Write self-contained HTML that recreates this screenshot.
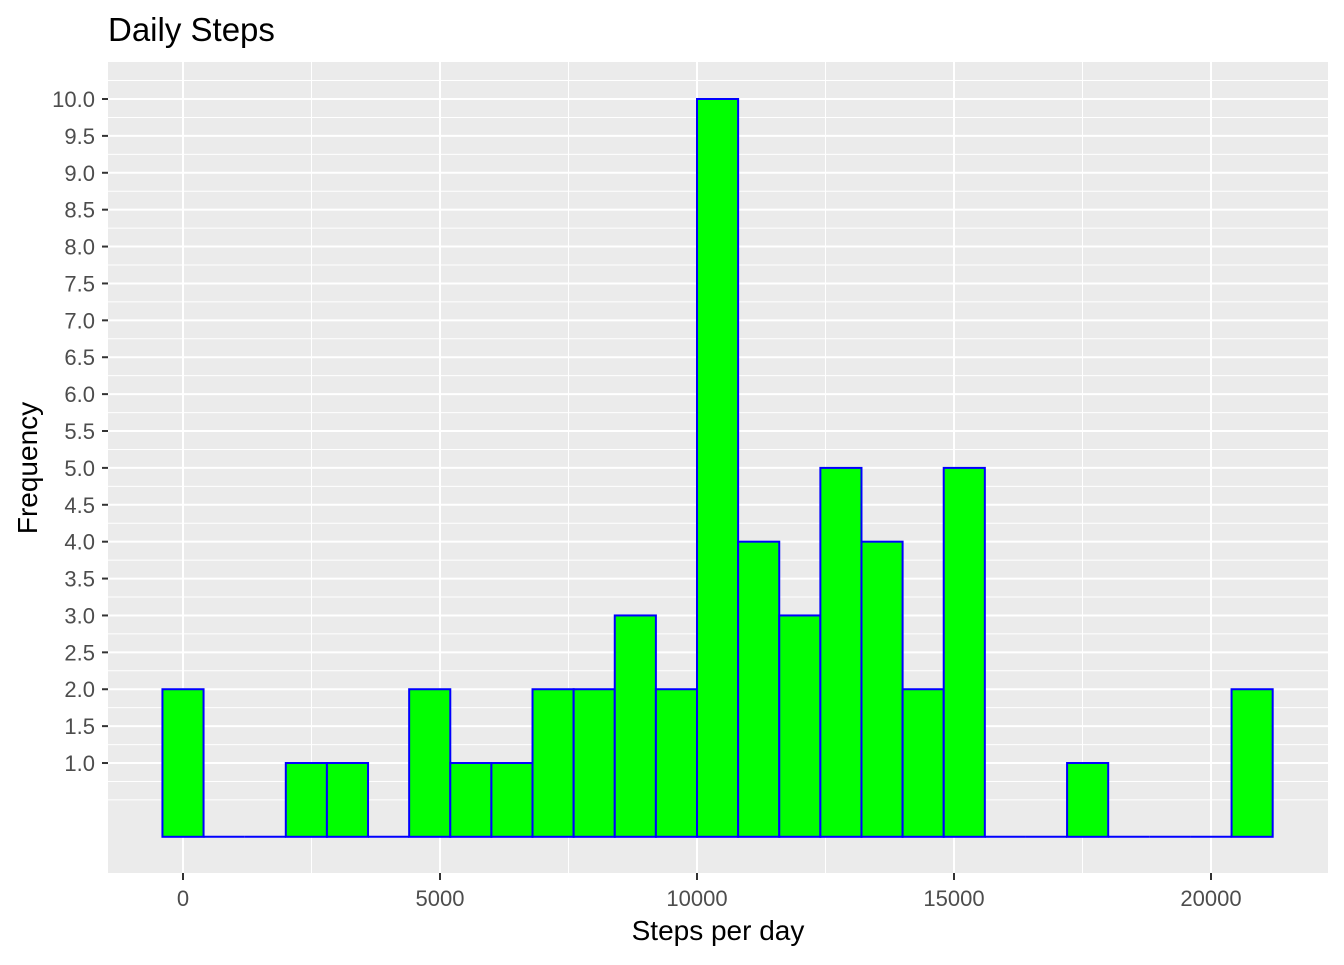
<!DOCTYPE html>
<html><head><meta charset="utf-8"><style>
body{margin:0;background:#fff;font-family:"Liberation Sans",Arial,sans-serif}
svg text{font-family:"Liberation Sans",Arial,sans-serif}
</style></head><body>
<svg id="chart" width="1344" height="960" xmlns="http://www.w3.org/2000/svg">
<rect width="1344" height="960" fill="#fff"/>
<text x="108" y="41" font-size="33" fill="#000">Daily Steps</text>
<rect x="108" y="62" width="1220" height="811" fill="#ebebeb"/>
<g id="grid"></g>
<g id="bars"></g>
<g id="axes"></g>
<text x="718" y="940" font-size="28" text-anchor="middle" fill="#000">Steps per day</text>
<text transform="translate(37,468) rotate(-90)" font-size="28" text-anchor="middle" fill="#000">Frequency</text>
</svg>
<script>
const binWidth = 800;
const binCenters = [0,800,1600,2400,3200,4000,4800,5600,6400,7200,8000,8800,9600,10400,11200,12000,12800,13600,14400,15200,16000,16800,17600,18400,19200,20000,20800];
const counts = [2,0,0,1,1,0,2,1,1,2,2,3,2,10,4,3,5,4,2,5,0,0,1,0,0,0,2];
const xTicks = [0,5000,10000,15000,20000];
const xMinor = [2500,7500,12500,17500];
const yTicks = [1,1.5,2,2.5,3,3.5,4,4.5,5,5.5,6,6.5,7,7.5,8,8.5,9,9.5,10];
const yTickLabels = ["1.0","1.5","2.0","2.5","3.0","3.5","4.0","4.5","5.0","5.5","6.0","6.5","7.0","7.5","8.0","8.5","9.0","9.5","10.0"];
const yMinor = [0.5,0.75,1.25,1.75,2.25,2.75,3.25,3.75,4.25,4.75,5.25,5.75,6.25,6.75,7.25,7.75,8.25,8.75,9.25,9.75,10.25];

const NS="http://www.w3.org/2000/svg";
const PL=108,PR=1328,PT=62,PB=873;
const x=v=>183+(v-0)*(1211-183)/20000;
const y=v=>836.8-v*(836.8-99)/10;
function mk(tag,attrs,parent){const e=document.createElementNS(NS,tag);for(const k in attrs)e.setAttribute(k,attrs[k]);parent.appendChild(e);return e;}
const grid=document.getElementById('grid'),bars=document.getElementById('bars'),axes=document.getElementById('axes');
yMinor.forEach(v=>{const l=mk('line',{x1:PL,x2:PR,y1:y(v),y2:y(v),stroke:'#fff','stroke-width':1},grid);

});
xMinor.forEach(v=>{const l=mk('line',{x1:x(v),x2:x(v),y1:PT,y2:PB,stroke:'#fff','stroke-width':1},grid);

});
yTicks.forEach((v,i)=>{const l=mk('line',{x1:PL,x2:PR,y1:y(v),y2:y(v),stroke:'#fff','stroke-width':2},grid);


const t=mk('line',{x1:PL-6,x2:PL,y1:y(v),y2:y(v),stroke:'#333','stroke-width':2},axes);


const tx=mk('text',{x:PL-13,y:y(v)+8,'font-size':22,'text-anchor':'end',fill:'#4d4d4d'},axes);tx.textContent=yTickLabels[i];

});
xTicks.forEach(v=>{const l=mk('line',{x1:x(v),x2:x(v),y1:PT,y2:PB,stroke:'#fff','stroke-width':2},grid);


const t=mk('line',{x1:x(v),x2:x(v),y1:PB,y2:PB+7,stroke:'#333','stroke-width':2},axes);


const tx=mk('text',{x:x(v),y:PB+33,'font-size':22,'text-anchor':'middle',fill:'#4d4d4d'},axes);tx.textContent=String(v);

});
binCenters.forEach((c,i)=>{const x0=x(c-binWidth/2),x1=x(c+binWidth/2);
if(counts[i]>0){
const r=mk('rect',{x:x0,y:y(counts[i]),width:x1-x0,height:y(0)-y(counts[i]),fill:'#00ff00',stroke:'#0000ff','stroke-width':2},bars);


}else{
const l=mk('line',{x1:x0,x2:x1,y1:y(0),y2:y(0),stroke:'#0000ff','stroke-width':2},bars);


}});
</script>
</body></html>
